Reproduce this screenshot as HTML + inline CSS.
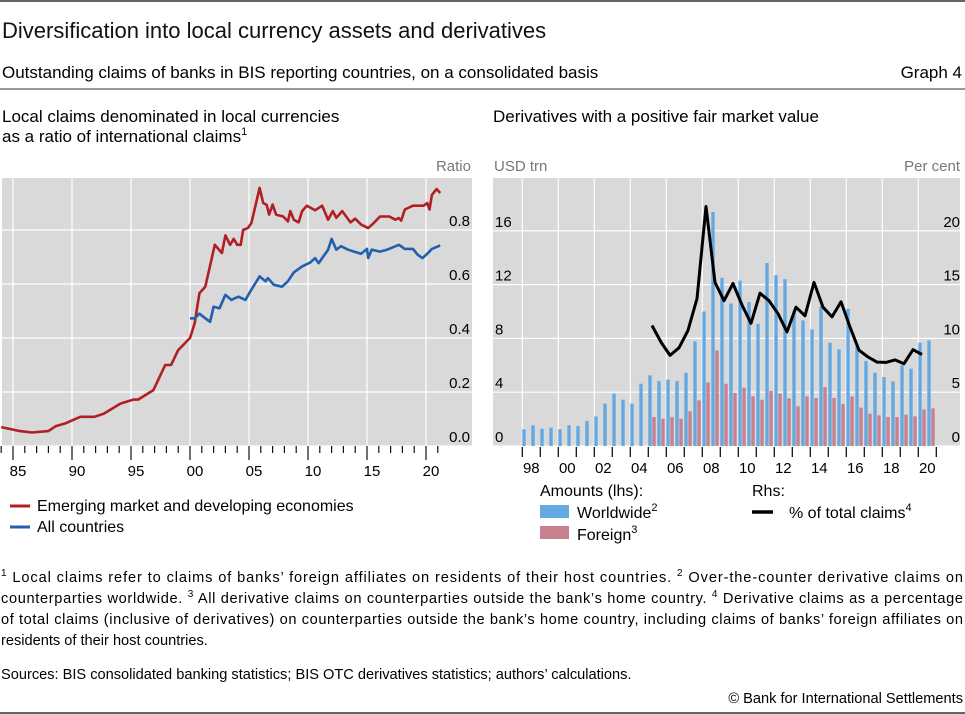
<!DOCTYPE html>
<html><head><meta charset="utf-8"><style>
html,body{margin:0;padding:0;background:#fff;}
body{width:965px;height:714px;overflow:hidden;font-family:"Liberation Sans Narrow","Liberation Sans",sans-serif;color:#111;}
svg{position:absolute;left:0;top:0;}
text{font-family:"Liberation Sans Narrow","Liberation Sans",sans-serif;}
</style></head><body>
<svg id="c" width="965" height="714">
<line x1="0" y1="1" x2="965" y2="1" stroke="#333" stroke-width="1.5"/>
<text x="2" y="38" font-size="22" fill="#111">Diversification into local currency assets and derivatives</text>
<text x="2" y="78" font-size="17">Outstanding claims of banks in BIS reporting countries, on a consolidated basis</text>
<text x="962" y="78" font-size="17" text-anchor="end">Graph 4</text>
<line x1="0" y1="89" x2="965" y2="89" stroke="#333" stroke-width="1"/>
<text x="2" y="122" font-size="17">Local claims denominated in local currencies</text>
<text x="2" y="142" font-size="17">as a ratio of international claims<tspan font-size="11" dy="-7">1</tspan></text>
<text x="493" y="122" font-size="17">Derivatives with a positive fair market value</text>
<text x="471" y="171" font-size="15" fill="#777" text-anchor="end">Ratio</text>
<text x="494" y="171" font-size="15" fill="#777">USD trn</text>
<text x="960" y="171" font-size="15" fill="#777" text-anchor="end">Per cent</text>
<rect x="2" y="178" width="470" height="268" fill="#d9d9d9"/>
<rect x="493" y="178" width="467" height="268" fill="#d9d9d9"/>
<g id="L"></g><g id="R"></g>
<g>
<line x1="10" y1="506" x2="30" y2="506" stroke="#b01f24" stroke-width="3"/>
<text x="37" y="511" font-size="16">Emerging market and developing economies</text>
<line x1="10" y1="527" x2="30" y2="527" stroke="#2160ac" stroke-width="3"/>
<text x="37" y="532" font-size="16">All countries</text>
</g>
<g>
<text x="540" y="496" font-size="16">Amounts (lhs):</text>
<rect x="540" y="505" width="29" height="13" fill="#65a9e3"/>
<text x="577" y="518" font-size="16">Worldwide<tspan font-size="11" dy="-7">2</tspan></text>
<rect x="540" y="526" width="29" height="13" fill="#c9808e"/>
<text x="577" y="540" font-size="16">Foreign<tspan font-size="11" dy="-7">3</tspan></text>
<text x="752" y="496" font-size="16">Rhs:</text>
<line x1="752" y1="512" x2="773" y2="512" stroke="#000" stroke-width="3.5"/>
<text x="789" y="518" font-size="16">% of total claims<tspan font-size="11" dy="-7">4</tspan></text>
</g>
<g font-size="14.6">
<text x="1" y="582" textLength="962" lengthAdjust="spacing"><tspan font-size="10" dy="-6">1</tspan><tspan dy="6"> Local claims refer to claims of banks’ foreign affiliates on residents of their host countries.   </tspan><tspan font-size="10" dy="-6">2</tspan><tspan dy="6"> Over-the-counter derivative claims on</tspan></text>
<text x="1" y="603" textLength="962" lengthAdjust="spacing">counterparties worldwide.   <tspan font-size="10" dy="-6">3</tspan><tspan dy="6"> All derivative claims on counterparties outside the bank’s home country.   </tspan><tspan font-size="10" dy="-6">4</tspan><tspan dy="6"> Derivative claims as a percentage</tspan></text>
<text x="1" y="624" textLength="962" lengthAdjust="spacing">of total claims (inclusive of derivatives) on counterparties outside the bank’s home country, including claims of banks’ foreign affiliates on</text>
<text x="1" y="645">residents of their host countries.</text>
</g>
<text x="1" y="679" font-size="14.6">Sources: BIS consolidated banking statistics; BIS OTC derivatives statistics; authors’ calculations.</text>
<text x="963" y="703" font-size="14.6" text-anchor="end">© Bank for International Settlements</text>
<line x1="0" y1="713" x2="965" y2="713" stroke="#333" stroke-width="1.5"/>
</svg>
<script>
// ---- Left chart data ----
const emdeYears=[1984.0,1985.6,1986.6,1988.0,1988.6,1989.5,1990.7,1991.9,1992.7,1994.1,1995.2,1995.6,1996.9,1997.9,1998.4,1999.0,2000.0,2000.4,2000.8,2001.3,2002.1,2002.7,2003.0,2003.4,2003.7,2004.0,2004.3,2004.5,2004.9,2005.2,2005.9,2006.2,2006.5,2006.7,2007.0,2007.3,2007.9,2008.3,2008.5,2008.8,2009.2,2009.5,2009.9,2010.6,2011.2,2011.7,2012.1,2012.4,2012.9,2013.6,2014.0,2014.5,2015.1,2015.5,2016.1,2016.9,2017.4,2017.7,2017.9,2018.2,2018.9,2019.8,2020.1,2020.3,2020.5,2020.9,2021.2];
const emdeValues=[0.07,0.055,0.05,0.055,0.073,0.085,0.108,0.108,0.12,0.157,0.172,0.172,0.207,0.30,0.30,0.355,0.40,0.455,0.566,0.59,0.745,0.715,0.78,0.745,0.767,0.745,0.745,0.80,0.807,0.826,0.956,0.90,0.893,0.857,0.894,0.857,0.85,0.832,0.87,0.838,0.828,0.87,0.89,0.873,0.89,0.838,0.87,0.845,0.87,0.828,0.842,0.82,0.807,0.823,0.85,0.85,0.838,0.844,0.835,0.876,0.89,0.89,0.90,0.876,0.93,0.952,0.937];
const allYears=[2000.0,2000.4,2000.8,2001.3,2001.7,2002.0,2002.5,2003.0,2003.5,2004.1,2004.7,2005.1,2005.9,2006.4,2006.6,2007.1,2007.8,2008.3,2008.8,2009.5,2010.2,2010.6,2010.9,2011.3,2011.7,2012.0,2012.4,2012.8,2013.4,2013.9,2014.5,2015.0,2015.1,2015.4,2016.1,2016.7,2017.7,2018.2,2018.9,2019.3,2019.7,2020.1,2020.5,2021.2];
const allValues=[0.473,0.473,0.49,0.473,0.46,0.516,0.51,0.56,0.541,0.553,0.541,0.572,0.628,0.61,0.622,0.597,0.59,0.61,0.643,0.665,0.68,0.696,0.677,0.702,0.727,0.767,0.727,0.74,0.727,0.72,0.712,0.73,0.696,0.727,0.72,0.727,0.745,0.73,0.73,0.708,0.696,0.712,0.73,0.743];
const leftTicks=[0,0.2,0.4,0.6,0.8];
const leftYearLabels=[1985,1990,1995,2000,2005,2010,2015,2020];
// ---- Right chart data (half-yearly from 1998H1) ----
const worldwide=[1.24,1.54,1.29,1.36,1.24,1.54,1.49,1.86,2.2,3.15,3.89,3.44,3.15,4.63,5.25,4.83,4.93,4.83,5.45,7.78,10.0,17.4,12.5,10.6,12.3,10.7,9.09,13.6,12.7,12.4,10.05,9.34,8.67,10.38,7.68,7.18,10.2,7.43,6.32,5.45,5.13,4.8,6.0,5.75,7.68,7.85];
const foreign=[null,null,null,null,null,null,null,null,null,null,null,null,null,null,2.15,2.03,2.15,2.03,2.58,3.39,4.73,7.1,4.63,3.96,4.33,3.69,3.44,4.09,3.89,3.54,2.95,3.69,3.57,4.38,3.57,3.12,3.69,2.85,2.4,2.28,2.15,2.15,2.33,2.2,2.72,2.8];
const pctTotal=[null,null,null,null,null,null,null,null,null,null,null,null,null,null,11.2,9.66,8.42,9.13,10.74,13.7,22.26,15.2,13.5,15.1,13.1,11.4,14.2,13.5,12.3,10.6,12.9,12.1,15.2,12.9,12.0,13.4,11.05,8.9,8.27,7.8,7.77,8.0,7.65,8.95,8.5];
const lhsTicks=[0,4,8,12,16];
const rhsTicks=[0,5,10,15,20];
const rightYearLabels=["98","00","02","04","06","08","10","12","14","16","18","20"];

const NS="http://www.w3.org/2000/svg";
function mk(parent,tag,attrs){const e=document.createElementNS(NS,tag);for(const k in attrs)e.setAttribute(k,attrs[k]);parent.appendChild(e);return e;}
// Left axes
const lx=y=>13+(y-1985)*11.8;
const ly=v=>446-v*270;
const L=document.getElementById('L');
for(let yr=1985;yr<=2020;yr+=5){const g=mk(L,'line',{x1:lx(yr),x2:lx(yr),y1:178,y2:446,stroke:'#fff','stroke-width':1.2});

}
leftTicks.forEach(v=>{const g=mk(L,'line',{x1:2,x2:472,y1:ly(v),y2:ly(v),stroke:'#fff','stroke-width':1.2});


const t=mk(L,'text',{x:470,y:ly(v)-4,'font-size':15,'text-anchor':'end'});t.textContent=v.toFixed(1);

});
for(let yr=1984;yr<=2021;yr++){const major=yr%5===0;const t=mk(L,'line',{x1:lx(yr),x2:lx(yr),y1:446,y2:major?460:453,stroke:'#111','stroke-width':1.2});

}
leftYearLabels.forEach(yr=>{const t=mk(L,'text',{x:lx(yr)+5,y:476,'font-size':15,'text-anchor':'middle'});t.textContent=String(yr%100).padStart(2,'0');

});
function poly(xs,vs){return xs.map((x,i)=>lx(x).toFixed(1)+','+ly(vs[i]).toFixed(1)).join(' ');}
const pe=mk(L,'polyline',{points:poly(emdeYears,emdeValues),fill:'none',stroke:'#b01f24','stroke-width':2.6,'stroke-linejoin':'round'});


const pa=mk(L,'polyline',{points:poly(allYears,allValues),fill:'none',stroke:'#2160ac','stroke-width':2.6,'stroke-linejoin':'round'});


// Right axes
const rx=t=>522.3+(t-1998)*18;
const ry=v=>446-v*13.45;
const ryr=v=>446-v*10.76;
const R=document.getElementById('R');
for(let yr=1998;yr<=2020;yr+=2){const g=mk(R,'line',{x1:rx(yr),x2:rx(yr),y1:178,y2:446,stroke:'#fff','stroke-width':1.2});

}
lhsTicks.forEach((v,i)=>{const g=mk(R,'line',{x1:493,x2:960,y1:ry(v),y2:ry(v),stroke:'#fff','stroke-width':1.2});


const t=mk(R,'text',{x:495,y:ry(v)-4,'font-size':15});t.textContent=v;

});
rhsTicks.forEach(v=>{const t=mk(R,'text',{x:960,y:ryr(v)-4,'font-size':15,'text-anchor':'end'});t.textContent=v;

});
worldwide.forEach((v,i)=>{const x0=rx(1998+i/2);
const b=mk(R,'rect',{x:x0,y:ry(v),width:3.4,height:446-ry(v),fill:'#65a9e3'});


if(foreign[i]!=null){const f=mk(R,'rect',{x:x0+4,y:ry(foreign[i]),width:3.4,height:446-ry(foreign[i]),fill:'#c9808e'});

}});
const pts=[];pctTotal.forEach((v,i)=>{if(v!=null)pts.push(rx(1998+i/2)+3.7+','+ryr(v).toFixed(1));});
const pl=mk(R,'polyline',{points:pts.join(' '),fill:'none',stroke:'#000','stroke-width':3,'stroke-linejoin':'round'});


for(let yr=1998;yr<=2021;yr++){const t=mk(R,'line',{x1:rx(yr),x2:rx(yr),y1:447,y2:457,stroke:'#111','stroke-width':1.3});

}
rightYearLabels.forEach((s,i)=>{const t=mk(R,'text',{x:rx(1998+2*i)+9,y:473,'font-size':15,'text-anchor':'middle'});t.textContent=s;

});
</script>
</body></html>
